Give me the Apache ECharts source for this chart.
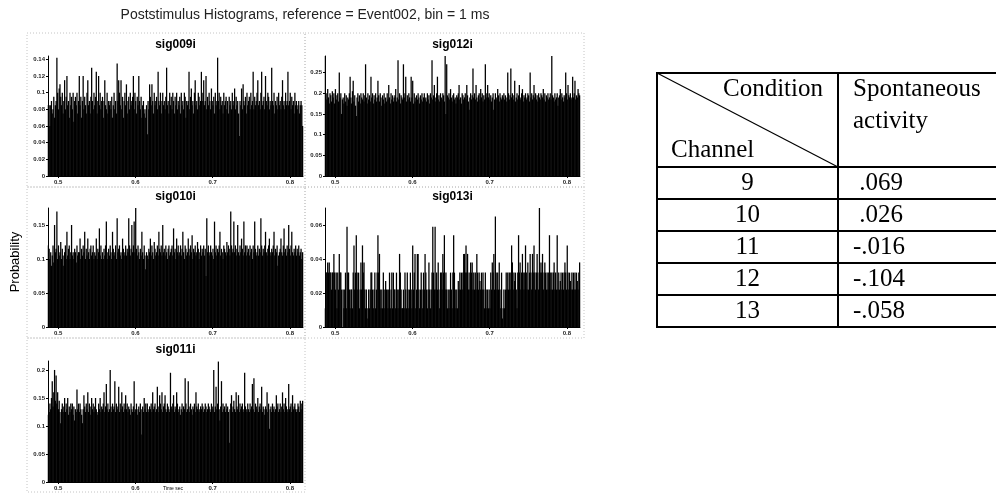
<!DOCTYPE html>
<html>
<head>
<meta charset="utf-8">
<script src="https://cdn.jsdelivr.net/npm/echarts@6/dist/echarts.min.js"></script>
<style>
  html, body { margin: 0; padding: 0; background: #fff; }
  #chart { width: 996px; height: 493px; }
</style>
</head>
<body>
<div id="chart"></div>
<script>
// Poststimulus histograms, 1 ms bins from 0.487 s to 0.817 s (330 bins per channel)
const binStart = 0.487;
const binWidth = 0.001;
const timeMin = 0.487;
const timeMax = 0.817;
const xTicks = [0.5, 0.6, 0.7, 0.8];

const sig009i = [
  .085,.085,.06,.085,.09,.075,.08,.095,.07,.085,
  .09,.142,.1,.08,.105,.11,.095,.085,.1,.075,
  .09,.115,.08,.095,.12,.085,.09,.07,.1,.085,
  .095,.08,.1,.065,.09,.095,.085,.1,.075,.09,
  .12,.085,.095,.07,.09,.12,.08,.095,.085,.075,
  .1,.115,.085,.09,.075,.095,.13,.09,.08,.1,
  .085,.095,.125,.075,.09,.12,.085,.1,.08,.09,
  .095,.07,.09,.115,.085,.08,.1,.075,.09,.085,
  .09,.08,.095,.07,.085,.1,.08,.09,.075,.135,
  .09,.115,.1,.085,.115,.08,.095,.07,.09,.1,
  .085,.11,.075,.09,.095,.08,.1,.085,.09,.095,
  .12,.08,.1,.09,.075,.095,.085,.12,.09,.08,
  .095,.07,.085,.09,.075,.08,.07,.085,.05,.09,
  .08,.11,.095,.085,.11,.09,.075,.1,.085,.09,
  .095,.08,.125,.09,.085,.1,.075,.09,.1,.085,
  .09,.08,.095,.13,.085,.09,.075,.1,.085,.095,
  .08,.1,.09,.075,.095,.085,.1,.08,.09,.085,
  .095,.075,.1,.085,.09,.08,.1,.095,.07,.09,
  .085,.09,.125,.08,.095,.105,.085,.09,.075,.1,
  .115,.085,.09,.08,.1,.095,.085,.09,.125,.09,
  .1,.115,.085,.09,.12,.08,.095,.085,.1,.09,
  .08,.105,.09,.085,.095,.075,.1,.085,.09,.142,
  .09,.1,.08,.095,.085,.09,.075,.1,.085,.09,
  .095,.08,.09,.075,.095,.085,.09,.08,.1,.085,
  .09,.105,.08,.095,.085,.09,.075,.048,.09,.085,
  .105,.08,.11,.09,.085,.095,.075,.1,.085,.09,
  .095,.08,.1,.085,.09,.125,.08,.095,.085,.09,
  .1,.115,.085,.09,.08,.1,.125,.085,.09,.095,
  .08,.12,.09,.085,.1,.095,.08,.09,.085,.13,
  .09,.085,.1,.075,.09,.085,.095,.08,.1,.085,
  .09,.08,.095,.115,.085,.09,.08,.1,.085,.09,
  .125,.085,.09,.1,.08,.095,.085,.09,.075,.1,
  .085,.09,.08,.085,.09,.075,.085,.09,.085,.06
];

const sig012i = [
  .29,.2,.185,.21,.19,.175,.2,.195,.18,.205,
  .19,.2,.175,.21,.185,.195,.2,.18,.25,.19,
  .2,.15,.185,.19,.175,.2,.18,.195,.17,.19,
  .185,.2,.24,.19,.175,.205,.23,.18,.195,.17,
  .145,.19,.2,.18,.195,.175,.2,.19,.185,.2,
  .18,.195,.27,.19,.175,.2,.185,.195,.18,.24,
  .19,.2,.175,.195,.185,.2,.18,.19,.23,.195,
  .18,.2,.19,.17,.195,.185,.2,.175,.19,.18,
  .2,.185,.22,.19,.175,.2,.185,.195,.18,.19,
  .195,.21,.18,.19,.28,.185,.2,.175,.195,.19,
  .185,.27,.19,.2,.24,.18,.195,.185,.2,.19,
  .18,.24,.19,.23,.175,.2,.18,.19,.195,.185,
  .2,.19,.175,.195,.185,.2,.18,.19,.2,.185,
  .19,.18,.2,.185,.195,.175,.2,.19,.28,.185,
  .195,.22,.18,.19,.2,.24,.185,.195,.18,.2,
  .19,.185,.2,.195,.18,.29,.15,.27,.195,.19,
  .2,.185,.21,.19,.18,.195,.2,.185,.19,.175,
  .195,.19,.2,.22,.185,.19,.175,.2,.195,.185,
  .19,.2,.185,.22,.195,.18,.16,.19,.2,.185,
  .195,.26,.19,.2,.185,.22,.19,.18,.195,.2,
  .185,.21,.19,.2,.18,.195,.185,.27,.2,.19,
  .22,.19,.2,.185,.195,.18,.19,.2,.16,.185,
  .2,.19,.185,.21,.195,.18,.2,.19,.185,.195,
  .19,.2,.185,.195,.18,.19,.25,.2,.185,.195,
  .26,.19,.2,.185,.195,.23,.18,.19,.2,.185,
  .195,.22,.19,.185,.2,.21,.18,.195,.19,.2,
  .185,.19,.2,.195,.18,.25,.19,.2,.185,.195,
  .22,.19,.2,.185,.195,.18,.2,.19,.185,.2,
  .195,.19,.21,.185,.2,.18,.195,.19,.2,.185,
  .19,.2,.185,.29,.195,.19,.18,.2,.185,.19,
  .2,.17,.19,.195,.21,.185,.2,.19,.18,.195,
  .19,.25,.2,.185,.22,.195,.19,.2,.185,.19,
  .24,.19,.2,.23,.185,.195,.19,.21,.2,.195
];

const sig010i = [
  .12,.115,.1,.11,.09,.105,.12,.095,.15,.11,
  .115,.17,.1,.12,.105,.11,.125,.1,.115,.105,
  .09,.11,.12,.1,.14,.105,.115,.12,.1,.11,
  .15,.105,.11,.1,.115,.11,.095,.12,.105,.11,
  .11,.13,.1,.115,.105,.12,.11,.14,.1,.115,
  .105,.13,.11,.1,.115,.12,.105,.11,.12,.1,
  .11,.105,.13,.1,.115,.11,.145,.105,.12,.1,
  .11,.1,.115,.105,.12,.155,.1,.11,.115,.105,
  .12,.11,.1,.14,.115,.105,.11,.12,.1,.16,
  .11,.115,.12,.105,.11,.1,.13,.115,.105,.11,
  .12,.105,.115,.11,.16,.12,.105,.115,.15,.11,
  .12,.155,.11,.175,.115,.105,.12,.11,.1,.115,
  .105,.14,.11,.1,.12,.105,.085,.11,.105,.1,
  .115,.11,.13,.105,.12,.11,.1,.125,.115,.105,
  .11,.12,.105,.14,.115,.11,.12,.105,.15,.11,
  .115,.105,.12,.11,.1,.115,.12,.105,.11,.115,
  .12,.105,.145,.11,.115,.1,.13,.11,.12,.105,
  .11,.12,.105,.115,.14,.11,.1,.12,.115,.105,
  .11,.13,.115,.105,.12,.11,.135,.1,.115,.11,
  .12,.105,.11,.125,.115,.1,.11,.12,.105,.115,
  .11,.12,.105,.115,.075,.16,.11,.12,.105,.11,
  .12,.11,.105,.115,.1,.155,.11,.12,.105,.115,
  .11,.12,.14,.105,.115,.11,.1,.12,.115,.11,
  .105,.125,.11,.12,.115,.105,.17,.12,.11,.115,
  .155,.11,.12,.105,.115,.15,.11,.105,.12,.11,
  .13,.115,.105,.155,.11,.12,.105,.12,.11,.115,
  .105,.12,.11,.115,.1,.12,.11,.155,.115,.105,
  .11,.12,.105,.115,.11,.16,.12,.105,.115,.11,
  .12,.14,.11,.105,.115,.12,.13,.11,.105,.115,
  .11,.12,.14,.105,.115,.11,.12,.09,.105,.11,
  .115,.13,.11,.105,.12,.145,.11,.115,.105,.12,
  .11,.15,.115,.105,.12,.14,.11,.105,.115,.11,
  .12,.105,.115,.11,.12,.105,.11,.115,.1,.11
];

const sig013i = [
  .011,.032,.032,.038,.032,.038,.032,.032,.022,.032,
  .032,.043,.032,.022,.032,.011,.032,.022,.043,.032,
  .032,.022,0,.022,.011,.022,.032,.011,.059,.032,
  .032,.022,.011,.022,.022,.011,.032,.048,.022,.032,
  .054,.032,.022,.032,.011,.022,.038,.022,.048,.032,
  .038,.022,.011,.022,.011,.005,.022,.011,.022,.032,
  .032,.022,.011,.022,.032,.011,.022,.032,.054,.032,
  .043,.022,.011,.022,.011,.032,.022,.011,.027,.022,
  .022,.011,.022,.032,.011,.022,.032,.011,.032,.022,
  .022,.011,.032,.022,.011,.022,.043,.032,.022,.011,
  .011,.022,.011,.032,.022,.011,.032,.022,.011,.022,
  .032,.022,.011,.048,.022,.032,.043,.011,.022,.043,
  .043,.022,.011,.022,.032,.022,.011,.032,.022,.043,
  .032,.022,.011,.022,.038,.022,.011,.022,.032,.059,
  .032,.022,.059,.022,.032,.022,.038,.022,.011,.032,
  .032,.022,.043,.032,.054,.022,.032,.022,.011,.022,
  .011,.022,.032,.022,.011,.032,.054,.032,.022,.011,
  .022,.011,.027,.022,.032,.022,.032,.022,.032,.043,
  .043,.032,.048,.032,.043,.022,.032,.022,.038,.032,
  .038,.022,.032,.022,.032,.022,.043,.032,.022,.032,
  .027,.022,.032,.022,.032,.022,.011,.032,.022,.011,
  .022,.011,.022,.011,.032,.022,.038,.032,.043,.022,
  .065,.032,.022,.032,.022,.038,.022,.011,.032,.005,
  .011,.022,.011,.022,.032,.022,.032,.022,.032,.022,
  .032,.048,.038,.022,.032,.027,.032,.022,.011,.032,
  .054,.032,.038,.022,.032,.043,.032,.022,.032,.048,
  .032,.022,.038,.022,.032,.043,.032,.022,.043,.032,
  .048,.032,.022,.032,.043,.032,.022,.07,.032,.038,
  .032,.043,.022,.032,.038,.032,.022,.032,.022,.032,
  .054,.032,.022,.032,.022,.032,.038,.022,.032,.022,
  .054,.022,.032,.022,.027,.032,.022,.032,.022,.032,
  .038,.032,.022,.048,.032,.022,.032,.027,.022,.032,
  .022,.032,.022,.032,.022,.032,.027,.022,.032,.038
];

const sig011i = [
  .12,.125,.14,.13,.15,.18,.135,.16,.2,.145,
  .19,.14,.16,.13,.145,.125,.105,.13,.14,.125,
  .135,.15,.125,.14,.13,.15,.12,.135,.125,.14,
  .13,.14,.12,.135,.11,.13,.125,.165,.13,.14,
  .125,.14,.13,.12,.105,.13,.155,.135,.125,.14,
  .13,.16,.125,.14,.135,.12,.15,.13,.14,.125,
  .135,.15,.13,.125,.12,.14,.13,.15,.125,.135,
  .13,.14,.16,.125,.135,.175,.13,.14,.125,.13,
  .2,.135,.125,.14,.13,.135,.18,.125,.14,.13,
  .135,.17,.125,.14,.13,.16,.135,.125,.14,.13,
  .155,.13,.14,.125,.135,.13,.12,.14,.13,.125,
  .135,.18,.125,.13,.14,.12,.13,.135,.125,.14,
  .13,.085,.135,.125,.15,.13,.14,.125,.14,.13,
  .125,.135,.13,.14,.125,.16,.13,.135,.14,.125,
  .13,.17,.135,.125,.155,.14,.13,.16,.125,.135,
  .14,.155,.13,.125,.14,.135,.13,.125,.195,.135,
  .13,.14,.155,.125,.135,.13,.16,.14,.125,.13,
  .135,.12,.13,.14,.125,.135,.13,.185,.14,.125,
  .13,.18,.135,.125,.14,.13,.12,.135,.13,.14,
  .125,.16,.135,.13,.14,.125,.13,.135,.13,.14,
  .135,.125,.13,.14,.135,.125,.13,.14,.135,.13,
  .125,.14,.135,.13,.2,.125,.135,.17,.13,.14,
  .215,.13,.11,.135,.18,.125,.14,.13,.135,.125,
  .14,.13,.135,.125,.07,.13,.14,.155,.125,.135,
  .145,.13,.125,.16,.135,.13,.155,.125,.14,.13,
  .135,.14,.125,.13,.195,.135,.13,.125,.14,.13,
  .125,.14,.13,.135,.175,.13,.185,.125,.14,.135,
  .13,.15,.125,.135,.14,.13,.17,.125,.135,.13,
  .12,.135,.13,.16,.125,.14,.095,.13,.135,.125,
  .14,.13,.135,.125,.13,.155,.135,.14,.125,.13,
  .14,.125,.135,.16,.13,.14,.125,.15,.135,.13,
  .125,.175,.13,.135,.14,.125,.155,.13,.135,.14,
  .13,.125,.13,.14,.135,.125,.145,.13,.14,.145
];

// y tick labels per channel
const ticks009 = [0, 0.02, 0.04, 0.06, 0.08, 0.1, 0.12, 0.14];
const ticks012 = [0, 0.05, 0.1, 0.15, 0.2, 0.25];
const ticks010 = [0, 0.05, 0.1, 0.15];
const ticks013 = [0, 0.02, 0.04, 0.06];
const ticks011 = [0, 0.05, 0.1, 0.15, 0.2];

// table on the right
const tableChannels = ['9', '10', '11', '12', '13'];
const tableValues = ['.069', '.026', '-.016', '-.104', '-.058'];

const panels = [
  { name: 'sig009i', values: sig009i, yMax: 0.144, ticks: ticks009, left: 48,  top: 56,  height: 120 },
  { name: 'sig012i', values: sig012i, yMax: 0.29,  ticks: ticks012, left: 325, top: 56,  height: 120 },
  { name: 'sig010i', values: sig010i, yMax: 0.175, ticks: ticks010, left: 48,  top: 208, height: 119 },
  { name: 'sig013i', values: sig013i, yMax: 0.07,  ticks: ticks013, left: 325, top: 208, height: 119 },
  { name: 'sig011i', values: sig011i, yMax: 0.216, ticks: ticks011, left: 48,  top: 361, height: 121 }
];
const plotWidth = 255;

const tickFont = { fontSize: 6, fontWeight: 'bold', color: '#222', fontFamily: 'Liberation Sans, Arial' };

const grids = [], xAxes = [], yAxes = [], series = [];
panels.forEach((p, i) => {
  grids.push({ left: p.left, top: p.top, width: plotWidth, height: p.height });
  xAxes.push({
    type: 'value', gridIndex: i, min: timeMin, max: timeMax,
    axisLine: { show: true, onZero: false, lineStyle: { color: '#000', width: 1 } },
    axisTick: { show: true, customValues: xTicks, length: 2, lineStyle: { color: '#000' } },
    axisLabel: Object.assign({ customValues: xTicks, margin: 3, formatter: v => v.toFixed(1) }, tickFont),
    splitLine: { show: false }
  });
  yAxes.push({
    type: 'value', gridIndex: i, min: 0, max: p.yMax,
    axisLine: { show: true, lineStyle: { color: '#000', width: 1 } },
    axisTick: { show: true, customValues: p.ticks, length: 2, lineStyle: { color: '#000' } },
    axisLabel: Object.assign({ customValues: p.ticks, margin: 3, formatter: v => String(v) }, tickFont),
    splitLine: { show: false }
  });
  series.push({
    type: 'custom',
    xAxisIndex: i, yAxisIndex: i,
    silent: true,
    encode: { x: [0, 1], y: 2 },
    data: p.values.map((v, k) => [binStart + k * binWidth, binStart + (k + 1) * binWidth, v]),
    renderItem: (params, api) => {
      const top = api.coord([api.value(0), api.value(2)]);
      const base = api.coord([api.value(1), 0]);
      // bins are narrower than a pixel: overlap them slightly so the mass stays solid black
      return {
        type: 'rect',
        shape: { x: top[0] - 0.25, y: top[1], width: base[0] - top[0] + 0.5, height: base[1] - top[1] },
        style: { fill: '#000' }
      };
    }
  });
});

// text helpers for graphic layer
const txt = (text, x, y, font, align, extra) => Object.assign({
  type: 'text', x: x, y: y, silent: true,
  style: { text: text, font: font, fill: '#000', align: align, textAlign: align, verticalAlign: 'middle', textVerticalAlign: 'middle' }
}, extra || {});
const line = (x1, y1, x2, y2, w, color, dash) => ({
  type: 'line', silent: true,
  shape: { x1: x1, y1: y1, x2: x2, y2: y2 },
  style: { stroke: color || '#000', lineWidth: w || 2, lineDash: dash || null }
});

const graphics = [];
// dotted panel frames
const frames = [[27, 33, 278, 154], [305, 33, 279, 154], [27, 187, 278, 151], [305, 187, 279, 151], [27, 338, 278, 154]];
frames.forEach(f => graphics.push({
  type: 'rect', silent: true, shape: { x: f[0], y: f[1], width: f[2], height: f[3] },
  style: { fill: null, stroke: '#c4c4c4', lineWidth: 1, lineDash: [1, 2] }
}));
graphics.push(txt('Poststimulus Histograms, reference = Event002, bin = 1 ms', 305, 15, '14px "Liberation Sans", Arial', 'center', null));
graphics[graphics.length - 1].style.fill = '#222';
panels.forEach(p => graphics.push(txt(p.name, p.left + plotWidth / 2, p.top - 11, 'bold 12px "Liberation Sans", Arial', 'center', null)));
graphics.push(txt('Probability', 15, 262, '13px "Liberation Sans", Arial', 'center', { rotation: Math.PI / 2 }));
graphics.push(txt('Time sec', 173, 489, '5px "Liberation Sans", Arial', 'center', null));

// table
const serif = '25px "Liberation Serif", "Times New Roman"';
const tLeft = 657, tTop = 73, tDiv = 838, tRight = 998, headBottom = 167, rowH = 32;
const tBottom = headBottom + rowH * tableChannels.length;
graphics.push(line(tLeft, tTop, tRight, tTop));
graphics.push(line(tLeft, tTop - 1, tLeft, tBottom + 1));
graphics.push(line(tDiv, tTop, tDiv, tBottom));
graphics.push(line(tLeft, headBottom, tRight, headBottom));
graphics.push(line(tLeft, tTop, tDiv, headBottom, 1.2));
tableChannels.forEach((c, i) => {
  const yb = headBottom + rowH * (i + 1);
  graphics.push(line(tLeft, yb, tRight, yb));
  const yc = headBottom + rowH * i + rowH / 2;
  graphics.push(txt(c, (tLeft + tDiv) / 2, yc, serif, 'center', null));
  const v = tableValues[i];
  graphics.push(txt(v.charAt(0) === '-' ? v : '\u00a0' + v, tDiv + 15, yc, serif, 'left', null));
});
graphics.push(txt('Condition', 823, 89, serif, 'right', null));
graphics.push(txt('Channel', 671, 150, serif, 'left', null));
graphics.push(txt('Spontaneous', 853, 89, serif, 'left', null));
graphics.push(txt('activity', 853, 121, serif, 'left', null));

const chart = echarts.init(document.getElementById('chart'), null, { renderer: 'canvas' });
chart.setOption({
  backgroundColor: '#fff',
  animation: false,
  grid: grids,
  xAxis: xAxes,
  yAxis: yAxes,
  series: series,
  graphic: { elements: graphics }
});
</script>
</body>
</html>
